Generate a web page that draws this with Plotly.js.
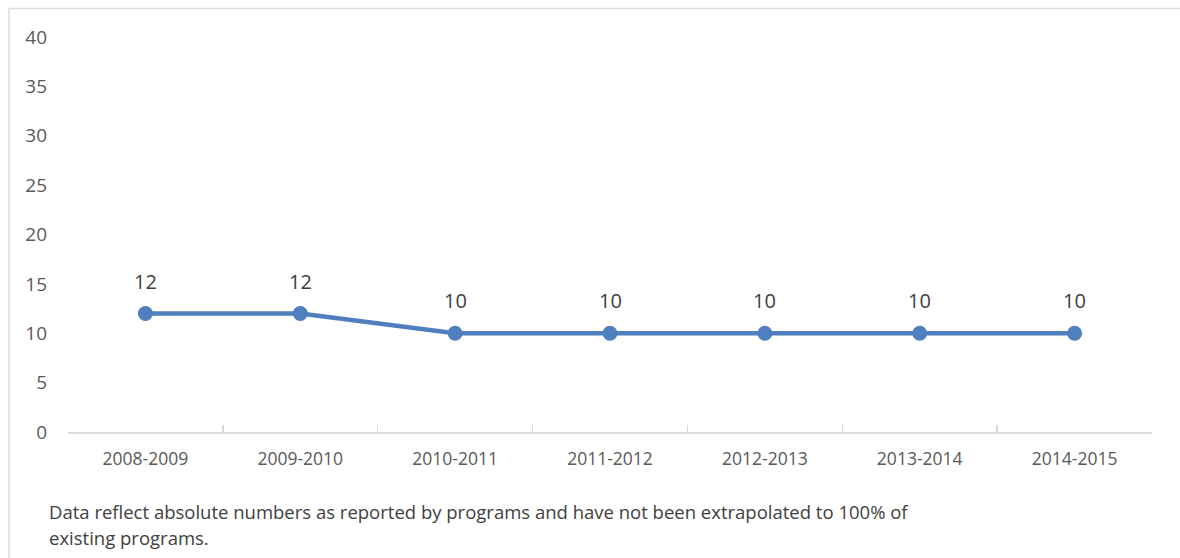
<!DOCTYPE html>
<html>
<head>
<meta charset="utf-8">
<script src="https://cdn.plot.ly/plotly-3.0.1.min.js"></script>
<style>
html,body{margin:0;padding:0;background:#fff;}
#chart{width:1180px;height:558px;}
</style>
</head>
<body>
<div id="chart"></div>
<script>
const categories = ["2008-2009","2009-2010","2010-2011","2011-2012","2012-2013","2013-2014","2014-2015"];
const values = [12, 12, 10, 10, 10, 10, 10];
const yTicks = [0, 5, 10, 15, 20, 25, 30, 35, 40];
const footnoteLines = ["Data reflect absolute numbers as reported by programs and have not been extrapolated to 100% of", "existing programs."];

const FONT = "Open Sans, Noto Sans, sans-serif";
const lineColor = "#4F7FBE";

const trace = {
  x: categories,
  y: values,
  type: "scatter",
  mode: "lines+markers",
  line: {color: lineColor, width: 4.5},
  marker: {color: lineColor, size: 15},
  hoverinfo: "skip",
  cliponaxis: false
};

const labelAnnotations = categories.map((c, i) => ({
  x: c, y: values[i], xref: "x", yref: "y",
  text: String(values[i]),
  showarrow: false, yanchor: "bottom", yshift: 17,
  font: {family: FONT, size: 20, color: "#404040"}
}));

const footAnnotations = footnoteLines.map((t, i) => ({
  xref: "paper", yref: "paper",
  x: (47 - 68) / 1084, y: (432 - (511 + 26 * i)) / 395,
  xanchor: "left", yanchor: "middle", align: "left",
  text: t, showarrow: false,
  font: {family: FONT, size: 18.5, color: "#404040"}
}));

const layout = {
  width: 1180, height: 558,
  margin: {l: 68, r: 28, t: 37, b: 126},
  paper_bgcolor: "#ffffff",
  plot_bgcolor: "#ffffff",
  showlegend: false,
  xaxis: {
    type: "category",
    range: [-0.5, categories.length - 0.5],
    tickson: "boundaries",
    ticks: "inside", ticklen: 7, tickwidth: 1.5, tickcolor: "#d9d9d9",
    showline: true, linecolor: "#d9d9d9", linewidth: 1.5,
    showgrid: false, zeroline: false,
    ticklabelstandoff: 10,
    tickfont: {family: FONT, size: 17.5, color: "#595959"},
    fixedrange: true
  },
  yaxis: {
    range: [0, 40],
    tickvals: yTicks,
    ticktext: yTicks.map(String),
    showline: false, showgrid: false, zeroline: false,
    ticks: "",
    ticklabelstandoff: 20,
    tickfont: {family: FONT, size: 19, color: "#595959"},
    fixedrange: true
  },
  annotations: labelAnnotations.concat(footAnnotations),
  shapes: [
    {type: "line", xref: "paper", yref: "paper",
     x0: (9 - 68) / 1084, x1: (1180 - 68) / 1084,
     y0: (432 - 8.5) / 395, y1: (432 - 8.5) / 395,
     line: {color: "#d9d9d9", width: 1.5}, layer: "below"},
    {type: "line", xref: "paper", yref: "paper",
     x0: (9 - 68) / 1084, x1: (9 - 68) / 1084,
     y0: (432 - 8.5) / 395, y1: (432 - 558) / 395,
     line: {color: "#d9d9d9", width: 1.5}, layer: "below"}
  ]
};

Plotly.newPlot("chart", [trace], layout, {displayModeBar: false, staticPlot: true});
</script>
</body>
</html>
